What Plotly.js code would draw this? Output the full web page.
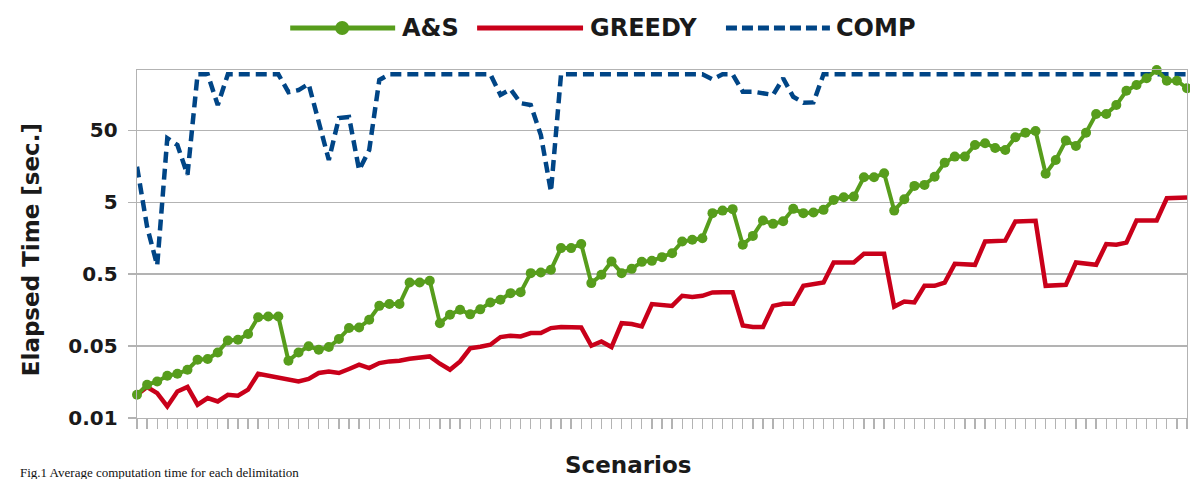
<!DOCTYPE html>
<html>
<head>
<meta charset="utf-8">
<script src="https://cdn.plot.ly/plotly-3.0.1.min.js"></script>
<style>
html,body{margin:0;padding:0;background:#fff;}
#chart{width:1190px;height:479px;}
</style>
</head>
<body>
<div id="chart"></div>
<script>
// ---- data ----
const seriesNames = ["A&S", "GREEDY", "COMP"];

const asTime = [
  0.0105, 0.0145, 0.0161, 0.0193, 0.0206, 0.0234, 0.0323, 0.0330, 0.0407, 0.0598,
  0.0612, 0.0734, 0.126, 0.129, 0.129, 0.0312, 0.0407, 0.0497, 0.0444, 0.0484,
  0.0626, 0.0889, 0.0906, 0.116, 0.181, 0.192, 0.192, 0.382, 0.382, 0.404,
  0.104, 0.136, 0.160, 0.138, 0.162, 0.202, 0.220, 0.272, 0.281, 0.516,
  0.526, 0.574, 1.15, 1.15, 1.31, 0.375, 0.489, 0.748, 0.516, 0.592,
  0.741, 0.765, 0.861, 0.978, 1.42, 1.50, 1.58, 3.52, 3.82, 4.00,
  1.28, 1.70, 2.78, 2.50, 2.72, 4.04, 3.52, 3.59, 3.91, 5.38,
  5.87, 5.98, 11.1, 11.1, 12.6, 3.82, 5.50, 8.42, 8.70, 11.3,
  17.7, 21.5, 21.5, 31.2, 33.0, 28.4, 26.6, 40.0, 46.3, 48.9,
  12.4, 19.3, 35.9, 30.3, 46.3, 84.2, 84.2, 112, 177, 213,
  264, 344, 244, 244, 192
];

const greedyTime = [
  0.0105, 0.0135, 0.0111, 0.00725, 0.0117, 0.0135, 0.00765, 0.00948, 0.0085, 0.0105,
  0.0102, 0.0124, 0.0206, 0.0193, 0.0180, 0.0170, 0.0161, 0.0175, 0.0211, 0.0222,
  0.0211, 0.0240, 0.0275, 0.0247, 0.0290, 0.0306, 0.0312, 0.0333, 0.0341, 0.0359,
  0.0284, 0.0234, 0.0306, 0.0466, 0.0489, 0.0522, 0.0667, 0.0695, 0.0680, 0.0758,
  0.0758, 0.0889, 0.0918, 0.0906, 0.0906, 0.0505, 0.0579, 0.0484, 0.104, 0.101,
  0.0936, 0.192, 0.187, 0.181, 0.250, 0.240, 0.250, 0.278, 0.281, 0.281,
  0.0966, 0.0918, 0.0918, 0.181, 0.193, 0.193, 0.344, 0.361, 0.382, 0.725,
  0.725, 0.725, 0.957, 0.957, 0.957, 0.177, 0.208, 0.202, 0.344, 0.344,
  0.382, 0.695, 0.695, 0.673, 1.42, 1.46, 1.46, 2.69, 2.75, 2.75,
  0.344, 0.344, 0.355, 0.725, 0.695, 0.673, 1.31, 1.28, 1.37, 2.78,
  2.78, 2.78, 5.68, 5.79, 5.79
];

const compTime = [
  15.6, 2.27, 0.66, 38.7, 31.2, 12.0, 300, 300, 112, 300,
  300, 300, 300, 300, 300, 169, 181, 220, 69.5, 19.3,
  74.1, 76.5, 14.0, 26.6, 250, 300, 300, 300, 300, 300,
  300, 300, 300, 300, 300, 300, 155, 186, 119, 112,
  43.0, 7.0, 300, 300, 300, 300, 300, 300, 300, 300,
  300, 300, 300, 300, 300, 300, 300, 255, 300, 300,
  172, 172, 163, 155, 264, 146, 121, 122, 300, 300,
  300, 300, 300, 300, 300, 300, 300, 300, 300, 300,
  300, 300, 300, 300, 300, 300, 300, 300, 300, 300,
  300, 300, 300, 300, 300, 300, 300, 300, 300, 300,
  300, 300, 300, 300, 300
];

const yTickVals = [0.005, 0.05, 0.5, 5, 50];
const yTickText = ["0.01", "0.05", "0.5", "5", "50"];
const xTitle = "Scenarios";
const yTitle = "Elapsed Time [sec.]";
const caption = "Fig.1 Average computation time for each delimitation";

// ---- styling / layout ----
const GREEN = "#579d1c", RED = "#c9001a", BLUE = "#004586", GRID = "#b3b3b3", TXT = "#1a1a1a";
const L = 136.7, R = 2.7, T = 70, B = 60.7, FW = 1190, FH = 479;
const PW = FW - L - R, PH = FH - T - B;
const fx = px => (px - L) / PW;
const fy = py => (FH - B - py) / PH;
const boldFont = (s) => ({family: "DejaVu Sans", size: s, color: TXT, weight: "bold"});

const traces = [
  {y: compTime, name: seriesNames[2], mode: "lines", type: "scatter",
   line: {color: BLUE, width: 4.5, dash: "11px,6px"}, cliponaxis: false, showlegend: false},
  {y: greedyTime, name: seriesNames[1], mode: "lines", type: "scatter",
   line: {color: RED, width: 4.5}, showlegend: false},
  {y: asTime, name: seriesNames[0], mode: "lines+markers", type: "scatter",
   line: {color: GREEN, width: 4}, marker: {color: GREEN, size: 10}, cliponaxis: false, showlegend: false}
];

const legY = 28;
const shapes = [
  {type: "line", xref: "paper", yref: "paper", x0: fx(290), x1: fx(395), y0: fy(legY), y1: fy(legY), line: {color: GREEN, width: 5}},
  {type: "circle", xref: "paper", yref: "paper", x0: fx(335), x1: fx(349), y0: fy(legY + 7), y1: fy(legY - 7), fillcolor: GREEN, line: {color: GREEN, width: 0}},
  {type: "line", xref: "paper", yref: "paper", x0: fx(477), x1: fx(583), y0: fy(legY), y1: fy(legY), line: {color: RED, width: 5}},
  {type: "line", xref: "paper", yref: "paper", x0: fx(726), x1: fx(830), y0: fy(legY), y1: fy(legY), line: {color: BLUE, width: 5, dash: "11px,5px"}}
];

const annotations = [
  {text: "A&amp;S", xref: "paper", yref: "paper", x: fx(400), y: fy(legY), xanchor: "left", yanchor: "middle", showarrow: false, font: boldFont(24)},
  {text: seriesNames[1], xref: "paper", yref: "paper", x: fx(588), y: fy(legY), xanchor: "left", yanchor: "middle", showarrow: false, font: boldFont(24)},
  {text: seriesNames[2], xref: "paper", yref: "paper", x: fx(834), y: fy(legY), xanchor: "left", yanchor: "middle", showarrow: false, font: boldFont(24)},
  {text: yTitle, xref: "paper", yref: "paper", x: fx(30), y: fy(250), xanchor: "center", yanchor: "middle", textangle: -90, showarrow: false, font: boldFont(23)},
  {text: xTitle, xref: "paper", yref: "paper", x: fx(628), y: fy(465), xanchor: "center", yanchor: "middle", showarrow: false, font: boldFont(23)},
  {text: caption, xref: "paper", yref: "paper", x: fx(18), y: fy(463), xanchor: "left", yanchor: "top", showarrow: false,
   font: {family: "Liberation Serif", size: 13, color: "#111"}}
];

const layout = {
  width: FW, height: FH,
  margin: {l: L, r: R, t: T, b: B, pad: 0},
  paper_bgcolor: "#fff", plot_bgcolor: "#fff",
  showlegend: false,
  xaxis: {
    range: [0, asTime.length - 1], showgrid: false, zeroline: false,
    showline: true, linecolor: GRID, linewidth: 1.3, mirror: true,
    ticks: "outside", ticklen: 10, tickcolor: GRID, tickwidth: 1.3,
    tick0: 0, dtick: 1, showticklabels: false, fixedrange: true
  },
  yaxis: {
    type: "log", range: [Math.log10(0.005), Math.log10(344)],
    tickvals: yTickVals, ticktext: yTickText,
    showgrid: true, gridcolor: GRID, gridwidth: 1.3, zeroline: false,
    showline: true, linecolor: GRID, linewidth: 1.3, mirror: true,
    ticks: "outside", ticklen: 8, tickcolor: GRID, tickwidth: 1.3,
    tickfont: boldFont(20), ticklabelstandoff: 6, fixedrange: true
  },
  shapes: shapes,
  annotations: annotations
};

Plotly.newPlot("chart", traces, layout, {staticPlot: true, displayModeBar: false});
</script>
</body>
</html>
